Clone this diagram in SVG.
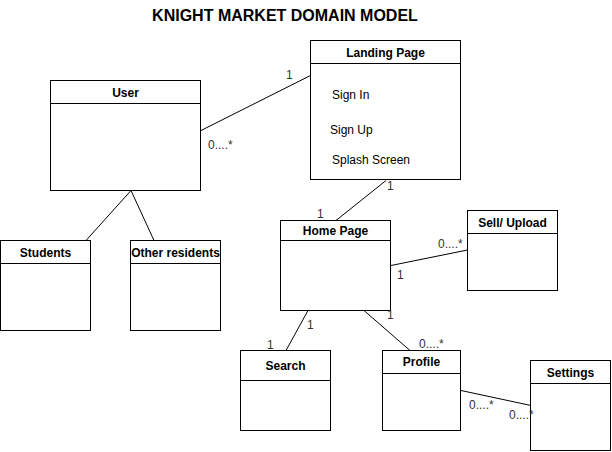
<svg xmlns="http://www.w3.org/2000/svg" width="612" height="452" viewBox="0 0 612 452">
<style>
.box{fill:#fff;stroke:#000;stroke-width:1}
.hd{font-family:"Liberation Sans",Arial,sans-serif;font-size:12px;font-weight:bold;text-anchor:middle;fill:#000}
.tx{font-family:"Liberation Sans",Arial,sans-serif;font-size:12px;fill:#000}
.lb{font-family:"Liberation Sans",Arial,sans-serif;font-size:12px;fill:#333}
.ln{stroke:#000;stroke-width:1;fill:none}
.title{font-family:"Liberation Sans",Arial,sans-serif;font-size:16px;font-weight:bold;text-anchor:middle;fill:#000}
</style>
<rect width="612" height="452" fill="#fff"/>
<text class="title" x="285" y="21">KNIGHT MARKET DOMAIN MODEL</text>
<g id="landing">
<rect class="box" x="310.5" y="40.5" width="150" height="139"/>
<line class="ln" x1="310.5" y1="63.5" x2="460.5" y2="63.5"/>
<text class="hd" x="385.5" y="57">Landing Page</text>
<text class="tx" x="332" y="99">Sign In</text>
<text class="tx" x="330" y="134">Sign Up</text>
<text class="tx" x="332" y="164">Splash Screen</text>
</g>
<g id="user">
<rect class="box" x="50.5" y="80.5" width="150" height="110"/>
<line class="ln" x1="50.5" y1="103.5" x2="200.5" y2="103.5"/>
<text class="hd" x="125.5" y="96.5">User</text>
</g>
<g id="students">
<rect class="box" x="0.5" y="240.5" width="90" height="90"/>
<line class="ln" x1="0.5" y1="263.5" x2="90.5" y2="263.5"/>
<text class="hd" x="45.5" y="257">Students</text>
</g>
<g id="other">
<rect class="box" x="130.5" y="240.5" width="90" height="90"/>
<line class="ln" x1="130.5" y1="263.5" x2="220.5" y2="263.5"/>
<text class="hd" x="175.5" y="257">Other residents</text>
</g>
<g id="home">
<rect class="box" x="280.5" y="220.5" width="110" height="90"/>
<line class="ln" x1="280.5" y1="240.5" x2="390.5" y2="240.5"/>
<text class="hd" x="335.5" y="235">Home Page</text>
</g>
<g id="sell">
<rect class="box" x="467.5" y="210.5" width="90" height="80"/>
<line class="ln" x1="467.5" y1="233.5" x2="557.5" y2="233.5"/>
<text class="hd" x="512.5" y="226.5">Sell/ Upload</text>
</g>
<g id="search">
<rect class="box" x="240.5" y="350.5" width="90" height="80"/>
<line class="ln" x1="240.5" y1="380.5" x2="330.5" y2="380.5"/>
<text class="hd" x="285.5" y="370">Search</text>
</g>
<g id="profile">
<rect class="box" x="382.5" y="350.5" width="78" height="80"/>
<line class="ln" x1="382.5" y1="373.5" x2="460.5" y2="373.5"/>
<text class="hd" x="421.5" y="366">Profile</text>
</g>
<g id="settings">
<rect class="box" x="530.5" y="360.5" width="80" height="90"/>
<line class="ln" x1="530.5" y1="383.5" x2="610.5" y2="383.5"/>
<text class="hd" x="570.5" y="377">Settings</text>
</g>
<g id="connectors">
<line class="ln" x1="201" y1="130.5" x2="310.5" y2="75.5"/>
<line class="ln" x1="131" y1="190.5" x2="86" y2="240.5"/>
<line class="ln" x1="131" y1="190.5" x2="154" y2="240.5"/>
<line class="ln" x1="386" y1="180.5" x2="336" y2="220.5"/>
<line class="ln" x1="391" y1="265.5" x2="467.5" y2="250"/>
<line class="ln" x1="308" y1="310.5" x2="286" y2="350.5"/>
<line class="ln" x1="364" y1="310.5" x2="410" y2="350.5"/>
<line class="ln" x1="461" y1="390.5" x2="531" y2="405.5"/>
<text class="lb" x="286" y="79">1</text>
<text class="lb" x="208" y="149">0....*</text>
<text class="lb" x="387" y="190">1</text>
<text class="lb" x="317" y="218">1</text>
<text class="lb" x="397" y="279">1</text>
<text class="lb" x="438" y="248">0....*</text>
<text class="lb" x="307" y="329">1</text>
<text class="lb" x="267" y="349">1</text>
<text class="lb" x="387" y="319">1</text>
<text class="lb" x="419" y="348">0....*</text>
<text class="lb" x="469" y="409">0....*</text>
<text class="lb" x="509" y="419">0....*</text>
</g>
</svg>
